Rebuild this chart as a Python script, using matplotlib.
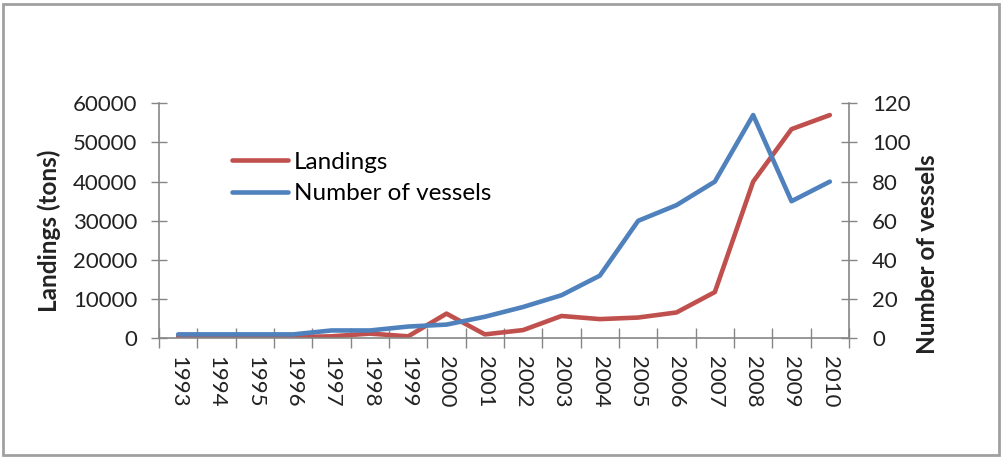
import matplotlib
matplotlib.use("Agg")
import matplotlib.pyplot as plt
import numpy as np
from matplotlib.patches import Rectangle

plt.rcParams['font.family'] = ['Lato', 'DejaVu Sans']

years = [str(y) for y in range(1993, 2011)]
landings = [500, 500, 100, 300, 500, 1200, 500, 6300, 1000, 2100,
            5700, 4900, 5300, 6600, 11800, 40000, 53400, 57000]
vessels = [2, 2, 2, 2, 4, 4, 6, 7, 11, 16, 22, 32, 60, 68, 80, 114, 70, 80]

red = '#C0504D'
blue = '#4F81BD'
grey = '#868686'
txt = '#222222'
fs = 16     # tick labels
fs2 = 17.5  # axis titles and legend

fig = plt.figure(figsize=(10.03, 4.57), dpi=100)
W, H = 1003, 457
ax = fig.add_axes([159 / W, 1 - 338.3 / H, (849 - 159) / W, (338.3 - 103.3) / H])
ax2 = ax.twinx()

x = np.arange(len(years))
l1, = ax.plot(x, landings, color=red, lw=3.3, label='Landings', solid_capstyle='round')
l2, = ax2.plot(x, vessels, color=blue, lw=3.3, label='Number of vessels', solid_capstyle='round')

ax.set_xlim(-0.5, len(years) - 0.5)
ax.set_ylim(0, 60000)
ax2.set_ylim(0, 120)
ax.set_yticks(np.arange(0, 60001, 10000))
ax2.set_yticks(np.arange(0, 121, 20))

# category boundaries as major ticks, labels on minor ticks
ax.set_xticks(np.arange(-0.5, len(years), 1))
ax.set_xticklabels([])
ax.set_xticks(x, minor=True)
ax.set_xticklabels(years, minor=True, rotation=-90, fontsize=fs, color=txt)
ax.tick_params(axis='x', which='minor', length=0, pad=13)
ax.tick_params(axis='x', which='major', direction='inout', length=13.7, width=1, color=grey)

ax.tick_params(axis='y', direction='inout', length=11, width=1, color=grey,
               labelsize=fs, labelcolor=txt, pad=10)
ax2.tick_params(axis='y', direction='inout', length=11, width=1, color=grey,
                labelsize=fs, labelcolor=txt, pad=11)

for a in (ax, ax2):
    for s in a.spines.values():
        s.set_color(grey)
        s.set_linewidth(1.2)
    a.spines['top'].set_visible(False)
ax.spines['right'].set_visible(False)
ax2.spines['left'].set_visible(False)
ax2.spines['bottom'].set_visible(False)

ax.set_ylabel('Landings (tons)', fontsize=fs2, fontweight='bold', color=txt)
ax.yaxis.set_label_coords(-0.142, 0.457)
ax2.set_ylabel('Number of vessels', fontsize=fs2, fontweight='bold', color=txt,
               rotation=90)
ax2.yaxis.set_label_coords(1.097, 0.36)

fig.legend(handles=[l1, l2], loc='center left', bbox_to_anchor=(232 / W, 1 - 178 / H),
           frameon=False, fontsize=fs2, handlelength=2.3, handletextpad=0.25,
           labelspacing=0.45, borderpad=0, borderaxespad=0)

fig.patches.append(Rectangle((3 / W, 2 / H), 996 / W, 451 / H, transform=fig.transFigure,
                             fill=False, edgecolor='#a0a0a0', lw=2))

fig.savefig('out.png', dpi=100)
